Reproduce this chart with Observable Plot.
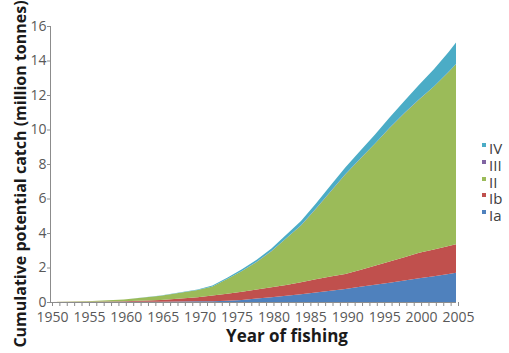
<!DOCTYPE html>
<html>
<head>
<meta charset="utf-8">
<script src="https://cdn.jsdelivr.net/npm/d3@7"></script>
<script src="https://cdn.jsdelivr.net/npm/@observablehq/plot@0.6"></script>
<style>
  html, body { margin: 0; padding: 0; background: #fff; }
  #wrap { position: relative; width: 509px; height: 353px; font-family: "Open Sans", sans-serif; }
  #legend { position: absolute; left: 482px; top: 140px; color: #404040; font-size: 15px; line-height: 16.8px; }
  #legend .row { display: flex; align-items: flex-start; height: 16.8px; }
  #legend .sw { width: 4px; height: 4px; margin-top: 3px; margin-right: 3px; }
</style>
</head>
<body>
<div id="wrap"><div id="legend"></div></div>
<script>
// Years sampled along the curves
const years = [1950, 1955, 1960, 1965, 1970, 1972, 1974, 1976, 1978, 1980, 1982, 1984,
               1986, 1988, 1990, 1992, 1994, 1996, 1998, 2000, 2002, 2004, 2005];

// Cumulative potential catch by category (million tonnes), each layer's own thickness
const catchIa  = [0, 0, 0.01, 0.02, 0.04, 0.05, 0.07, 0.12, 0.20, 0.28, 0.36, 0.45,
                  0.55, 0.65, 0.75, 0.88, 1.00, 1.12, 1.25, 1.38, 1.50, 1.63, 1.70];
const catchIb  = [0, 0.01, 0.04, 0.10, 0.23, 0.32, 0.41, 0.48, 0.52, 0.57, 0.62, 0.70,
                  0.77, 0.83, 0.87, 0.97, 1.10, 1.23, 1.35, 1.47, 1.55, 1.62, 1.65];
const catchII  = [0, 0.035, 0.09, 0.24, 0.42, 0.53, 0.85, 1.19, 1.60, 2.09, 2.71, 3.29,
                  4.07, 4.91, 5.77, 6.44, 7.07, 7.74, 8.34, 8.89, 9.44, 10.09, 10.44];
const catchIII = [0, 0, 0, 0, 0, 0, 0, 0.01, 0.01, 0.01, 0.01, 0.01,
                  0.01, 0.01, 0.01, 0.01, 0.01, 0.01, 0.01, 0.01, 0.01, 0.01, 0.01];
const catchIV  = [0, 0.005, 0.01, 0.02, 0.03, 0.05, 0.07, 0.10, 0.12, 0.15, 0.20, 0.25,
                  0.30, 0.35, 0.40, 0.45, 0.52, 0.60, 0.70, 0.85, 1.00, 1.15, 1.25];

const seriesNames  = ["Ia", "Ib", "II", "III", "IV"];
const seriesValues = [catchIa, catchIb, catchII, catchIII, catchIV];
const seriesColors = ["#4f81bd", "#c0504d", "#9bbb59", "#8064a2", "#4bacc6"];

const yTicks = [0, 2, 4, 6, 8, 10, 12, 14, 16];
const xLabelYears = [1950, 1955, 1960, 1965, 1970, 1975, 1980, 1985, 1990, 1995, 2000, 2005];

// Long-format table for the stacked areas
const rows = [];
seriesNames.forEach((name, i) => {
  years.forEach((yr, j) => rows.push({year: yr, series: name, value: seriesValues[i][j]}));
});

const grey = "#595959";
const axisGrey = "#8c8c8c";

const chart = Plot.plot({
  width: 509,
  height: 353,
  marginLeft: 50,
  marginRight: 53,
  marginTop: 26,
  marginBottom: 51,
  style: {fontFamily: "Open Sans, sans-serif", background: "white"},
  x: {domain: [1950, 2005]},
  y: {domain: [0, 16]},
  color: {domain: seriesNames, range: seriesColors},
  marks: [
    Plot.areaY(rows, {x: "year", y: "value", fill: "series", order: seriesNames, curve: "linear"}),
    Plot.ruleY([0], {stroke: axisGrey}),
    Plot.ruleX([1950], {stroke: axisGrey}),
    Plot.axisX({
      ticks: d3.range(1950, 2006),
      tickFormat: d => xLabelYears.includes(d) ? String(d) : "",
      tickSize: 4,
      tickPadding: 6,
      fontSize: 14,
      color: grey,
      stroke: axisGrey,
      dx: 2,
      label: null
    }),
    Plot.axisY({
      ticks: yTicks,
      tickFormat: d => String(d),
      tickSize: 3,
      tickPadding: 1,
      fontSize: 14,
      color: grey,
      stroke: axisGrey,
      label: null
    })
  ]
});

const svg = d3.select(chart);
svg.append("text")
  .attr("x", 287).attr("y", 342)
  .attr("text-anchor", "middle")
  .attr("font-family", "Open Sans, sans-serif")
  .attr("font-weight", "bold")
  .attr("font-size", 17)
  .attr("fill", "#1a1a1a")
  .text("Year of fishing");
svg.append("text")
  .attr("transform", "translate(26,174) rotate(-90)")
  .attr("text-anchor", "middle")
  .attr("font-family", "Open Sans, sans-serif")
  .attr("font-weight", "bold")
  .attr("font-size", 16)
  .attr("fill", "#1a1a1a")
  .text("Cumulative potential catch (million tonnes)");

const wrap = document.getElementById("wrap");
wrap.insertBefore(chart, wrap.firstChild);

// Legend, top entry first
const legend = d3.select("#legend");
seriesNames.slice().reverse().forEach(name => {
  const row = legend.append("div").attr("class", "row");
  row.append("div").attr("class", "sw").style("background", seriesColors[seriesNames.indexOf(name)]);
  row.append("div").text(name);
});
</script>
</body>
</html>
